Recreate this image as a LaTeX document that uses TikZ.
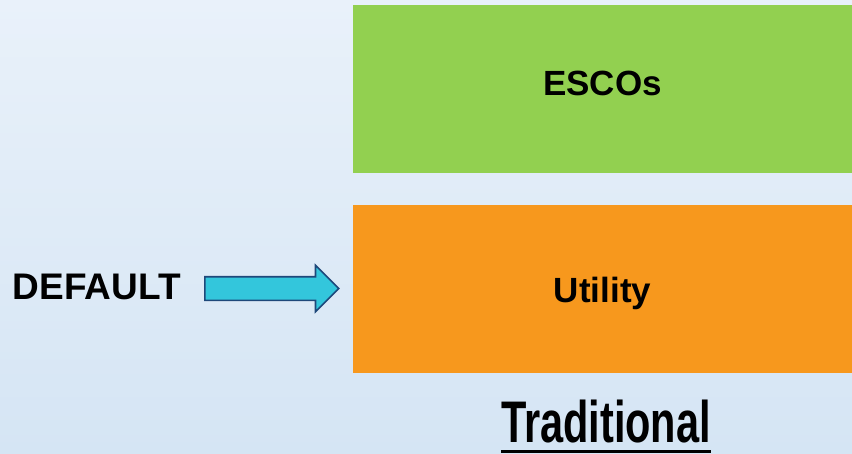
\documentclass[tikz,border=0pt]{standalone}
\usepackage{fontspec}
\setmainfont{Liberation Sans}
\usetikzlibrary{positioning,shapes.arrows}
\definecolor{escogreen}{RGB}{146,208,80}
\definecolor{utilorange}{RGB}{247,152,29}
\definecolor{arrowcyan}{RGB}{51,198,220}
\definecolor{arrowedge}{RGB}{30,72,122}
\definecolor{bgtop}{RGB}{233,241,250}
\definecolor{bgbottom}{RGB}{213,229,244}

\begin{document}
\begin{tikzpicture}[x=1pt, y=-1pt,
  block/.style = {fill, minimum width=499pt, minimum height=168pt, inner sep=0pt,
                  font=\fontsize{35}{40}\selectfont\bfseries},
  pointer/.style = {single arrow, draw=arrowedge, fill=arrowcyan, line width=1.6pt,
                    inner xsep=0pt, inner ysep=11pt, minimum height=134pt,
                    single arrow head extend=11.5pt},
  node distance={32pt}]
\shade[top color=bgtop, bottom color=bgbottom] (0,0) rectangle (852,453);
\useasboundingbox (0,0) rectangle (852,453);
\node[block, fill=escogreen, text height=24pt, text depth=12pt] (escos) at (602.5,89) {ESCOs};
\node[block, fill=utilorange, text height=26pt, text depth=0pt] (utility) [below=of escos] {Utility};
\node[pointer, anchor=tail] (arrow) at (204,288.5) {};
\node[inner sep=0pt, anchor=base east, font=\fontsize{37}{40}\selectfont\bfseries] (default) at (181,299) {DEFAULT};
\node[inner sep=0pt, anchor=base, font=\fontsize{58.7}{60}\selectfont\bfseries] (trad) at (606,442) {\scalebox{0.707}[1]{Traditional}};
\draw[line width=3pt] ([yshift=-9.5pt]trad.base west) -- ([yshift=-9.5pt]trad.base east);
\end{tikzpicture}
\end{document}
